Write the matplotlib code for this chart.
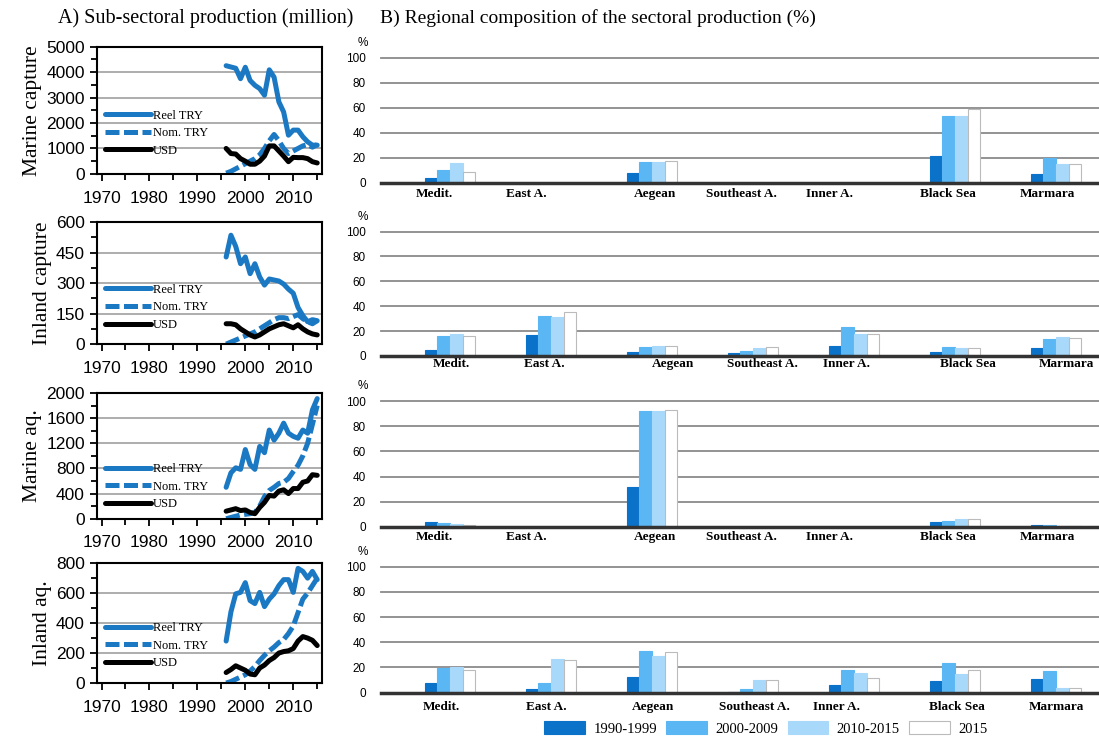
import matplotlib
matplotlib.use("Agg")
import matplotlib.pyplot as plt
from matplotlib.ticker import MultipleLocator
import numpy as np

# ---- data ----
years = list(range(1996, 2016))

mc_reel = [4250, 4200, 4150, 3740, 4190, 3670, 3480, 3350, 3090, 4090, 3800, 2830, 2430, 1520, 1720, 1720, 1460, 1260, 1130, 1130]
mc_nom = [30, 100, 200, 300, 400, 500, 600, 750, 1000, 1300, 1550, 1300, 1000, 800, 900, 1000, 1100, 1150, 1050, 1150]
mc_usd = [1000, 800, 780, 600, 500, 380, 380, 500, 700, 1100, 1100, 900, 700, 480, 650, 640, 640, 600, 480, 430]

ic_reel = [428, 535, 480, 395, 428, 346, 395, 330, 290, 320, 315, 310, 295, 270, 250, 180, 140, 110, 120, 115]
ic_nom = [0, 10, 20, 30, 40, 50, 60, 75, 90, 105, 120, 130, 130, 125, 135, 145, 125, 110, 100, 115]
ic_usd = [100, 100, 95, 75, 60, 45, 35, 45, 60, 75, 85, 95, 100, 90, 80, 95, 75, 60, 50, 45]

ma_reel = [500, 730, 810, 785, 1100, 860, 785, 1150, 1050, 1410, 1250, 1360, 1520, 1360, 1310, 1280, 1410, 1360, 1730, 1910]
ma_nom = [0, 20, 40, 60, 70, 80, 100, 200, 350, 450, 500, 560, 580, 640, 750, 850, 1000, 1200, 1500, 1800]
ma_usd = [120, 140, 160, 130, 140, 100, 80, 180, 260, 370, 360, 440, 460, 400, 480, 480, 580, 600, 700, 690]

ia_reel = [280, 475, 595, 605, 670, 550, 530, 605, 510, 560, 595, 650, 690, 690, 605, 765, 745, 700, 745, 690]
ia_nom = [0, 10, 25, 40, 55, 80, 110, 150, 185, 215, 240, 270, 290, 330, 380, 470, 560, 600, 650, 700]
ia_usd = [70, 90, 115, 100, 85, 60, 55, 100, 120, 150, 170, 200, 210, 215, 230, 280, 310, 300, 285, 250]

regions = ["Medit.", "East A.", "Aegean", "Southeast A.", "Inner A.", "Black Sea", "Marmara"]
periods = ["1990-1999", "2000-2009", "2010-2015", "2015"]

# share per region, one list per period
mc_share = [[4, 0, 8, 0, 0, 21.5, 7],
            [10, 0, 17, 0, 0, 53.5, 20],
            [15.5, 0, 17, 0, 0, 53.5, 15],
            [9, 0, 17.5, 0, 0, 59, 15]]
ic_share = [[5, 16.5, 3, 2, 8, 3, 6],
            [16, 32.5, 7, 4, 23, 7, 14],
            [17.5, 31.5, 8, 6.5, 18, 6.5, 15],
            [16, 35.5, 8, 7, 17.5, 6, 14.5]]
ma_share = [[4, 0, 32, 0, 0, 3.5, 1.5],
            [3, 0, 92.5, 0, 0, 4.5, 1.5],
            [2, 0, 92, 0, 0, 6.5, 0.5],
            [1.5, 0, 93, 0, 0, 6.5, 0.5]]
ia_share = [[7.5, 2.5, 12.5, 0.5, 6, 9, 10.5],
            [19.5, 7.5, 33, 2.5, 18, 23.5, 17],
            [20.5, 27, 29, 10, 16, 15, 4],
            [18, 26, 32.5, 10, 11.5, 18, 3.5]]

BLUE = "#1b79c4"
bar_colors = ["#0a72c9", "#5bb7f3", "#a8d9fb", "white"]
bar_edges = ["#0a72c9", "#5bb7f3", "#a8d9fb", "#bbbbbb"]

# name, series, ymax, major, minor, axes bottom, height, legend y (centre of middle entry)
left_panels = [
    ("Marine capture", mc_reel, mc_nom, mc_usd, 5000, 1000, 500, 0.765, 0.172, 0.32),
    ("Inland capture", ic_reel, ic_nom, ic_usd, 600, 150, 75, 0.535, 0.165, 0.30),
    ("Marine aq.", ma_reel, ma_nom, ma_usd, 2000, 400, 200, 0.299, 0.170, 0.255),
    ("Inland aq.", ia_reel, ia_nom, ia_usd, 800, 200, 100, 0.077, 0.162, 0.31),
]
# category label shifts (in category units) and vertical offset (points), as placed in the original
right_panels = [
    (mc_share, 0.753, 0.169, [-0.15, -0.24, 0.03, -0.11, -0.24, -0.07, -0.08], -8),
    (ic_share, 0.519, 0.168, [0.01, -0.07, 0.21, 0.09, -0.07, 0.13, 0.10], -5.5),
    (ma_share, 0.288, 0.170, [-0.15, -0.24, 0.03, -0.11, -0.24, -0.07, -0.08], -7.5),
    (ia_share, 0.064, 0.170, [-0.09, -0.05, 0.01, 0.01, -0.17, 0.02, 0.0], -10),
]

fig = plt.figure(figsize=(10.99, 7.40), dpi=100)

fig.text(0.053, 0.975, "A) Sub-sectoral production (million)", family="Liberation Serif",
         fontsize=14.5, va="center", ha="left")
fig.text(0.346, 0.975, "B) Regional composition of the sectoral production (%)",
         family="Liberation Serif", fontsize=14, va="center", ha="left")

for name, reel, nom, usd, ymax, major, minor, bottom, height, leg_y in left_panels:
    ax = fig.add_axes([0.088, bottom, 0.205, height])
    ax.plot(years, reel, color=BLUE, lw=3.6, label="Reel TRY", solid_capstyle="round")
    ax.plot(years, nom, color=BLUE, lw=3.6, ls=(0, (2.8, 0.9)), label="Nom. TRY")
    ax.plot(years, usd, color="black", lw=3.6, label="USD", solid_capstyle="round")
    ax.set_xlim(1969, 2016)
    ax.set_ylim(0, ymax)
    ax.xaxis.set_major_locator(MultipleLocator(10))
    ax.xaxis.set_minor_locator(MultipleLocator(5))
    ax.yaxis.set_major_locator(MultipleLocator(major))
    ax.yaxis.set_minor_locator(MultipleLocator(minor))
    ax.grid(axis="y", which="major", color="#a0a0a0", lw=1.2)
    ax.set_axisbelow(True)
    for s in ax.spines.values():
        s.set_linewidth(1.5)
    ax.tick_params(which="major", direction="out", length=5, width=1.3, labelsize=12.5)
    ax.tick_params(which="minor", direction="out", length=4, width=1.3)
    ax.tick_params(axis="x", pad=7)
    for lab in ax.get_xticklabels() + ax.get_yticklabels():
        lab.set_family("Liberation Sans")
    ax.set_ylabel(name, family="Liberation Serif", fontsize=15.5, labelpad=3)
    ax.legend(loc="center left", bbox_to_anchor=(0.035, leg_y), frameon=False,
              prop={"family": "Liberation Serif", "size": 9}, handlelength=3.7,
              handletextpad=0.15, labelspacing=0.45, borderpad=0, borderaxespad=0)

x = np.arange(len(regions))
bw = 0.126
for k, (share, bottom, height, shifts, dy) in enumerate(right_panels):
    ax = fig.add_axes([0.3467, bottom, 0.6533, height])
    for j, vals in enumerate(share):
        ax.bar(x + (j - 1.5) * bw, vals, width=bw, color=bar_colors[j],
               edgecolor=bar_edges[j], linewidth=0.8, label=periods[j], zorder=3)
    ax.set_xlim(-0.683, 6.426)
    ax.set_ylim(0, 100)
    ax.set_yticks([0, 20, 40, 60, 80, 100])
    ax.grid(axis="y", color="#8a8a8a", lw=1.3, zorder=0)
    for g in ax.get_ygridlines():
        g.set_clip_on(False)
    for s in ["top", "right", "left"]:
        ax.spines[s].set_visible(False)
    ax.spines["bottom"].set_color("#333333")
    ax.spines["bottom"].set_linewidth(2.5)
    ax.spines["bottom"].set_zorder(4)
    ax.set_xticks([])
    for i, reg in enumerate(regions):
        ax.annotate(reg, xy=(x[i] + shifts[i], 0), xycoords=("data", "axes fraction"),
                    xytext=(0, dy), textcoords="offset points", ha="center", va="center",
                    family="Liberation Serif", fontweight="bold", fontsize=9.5)
    ax.tick_params(axis="y", length=0, labelsize=8.5, pad=11)
    for lab in ax.get_yticklabels():
        lab.set_family("Liberation Sans")
    ax.text(-0.025, 1.07, "%", transform=ax.transAxes, fontsize=8.5,
            family="Liberation Sans", ha="center", va="bottom")
    if k == 3:
        ax.legend(loc="center", bbox_to_anchor=(0.536, -0.286), ncol=4, frameon=False,
                  prop={"family": "Liberation Serif", "size": 10.5}, handlelength=2.8,
                  handleheight=1.0, columnspacing=0.65, handletextpad=0.55, borderpad=0)

fig.savefig("out.png", dpi=100)
